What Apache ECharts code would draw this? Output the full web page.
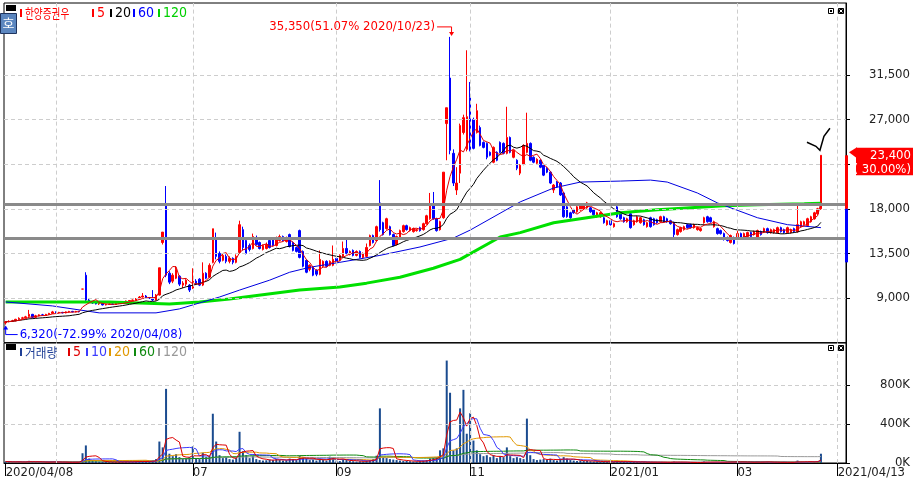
<!doctype html>
<html lang="ko">
<head>
<meta charset="UTF-8">
<title>한양증권우</title>
<script src="https://cdn.jsdelivr.net/npm/echarts@6.0.0/dist/echarts.min.js"></script>
<style>
    html, body { margin: 0; padding: 0; background: #fff; }
    #container { width: 913px; height: 482px; }
</style>
</head>
<body>
<div id="container"></div>
<script type="text/javascript">

    // 일봉 [시가, 종가, 저가, 고가]  2020/04/08 ~
    var kline = [
        [6500,6600,6320,6650],[6600,6650,6550,6750],[6650,6700,6600,6800],[6700,6850,6650,6900],[6850,6950,6800,7050],
        [6950,7000,6900,7100],[7000,7100,6950,7200],[7150,7350,7100,7800],[7350,7050,6950,7400],[7050,7200,7000,7300],
        [7200,7300,7150,7350],[7300,7250,7200,7400],[7250,7350,7200,7400],[7350,7450,7300,7500],[7450,7600,7400,7700],
        [7600,7500,7450,7650],[7500,7550,7450,7600],[7550,7500,7450,7600],[7500,7600,7450,7650],[7600,7650,7550,7700],
        [7650,7600,7550,7700],[7600,7650,7550,7700],[7650,7620,7550,7700],[9900,9900,9900,9900],[11300,8800,8700,11600],
        [8800,8600,8500,8900],[8600,8500,8400,8700],[8500,8400,8350,8600],[8400,8450,8300,8500],[8450,8300,8250,8500],
        [8300,8350,8250,8400],[8350,8400,8300,8450],[8400,8350,8300,8450],[8350,8450,8300,8500],[8450,8500,8400,8550],
        [8500,8550,8450,8600],[8550,8700,8500,8750],[8700,8750,8650,8800],[8750,8800,8700,8850],[8800,8900,8750,9000],
        [8900,9100,8850,9200],[9100,9200,9050,9500],[9200,9050,9000,9300],[9050,9000,8900,9100],[9000,8800,8700,9800],
        [8800,9300,8750,9400],[9300,12050,9250,12050],[14600,15650,14400,15650],[18400,11300,11100,20300],[11500,10600,10400,11700],
        [10700,11300,10500,11500],[11000,11900,10900,12200],[11200,10400,10200,11300],[10300,10500,10000,10700],[10400,10800,10200,10900],
        [10300,9800,9600,10400],[10000,10700,9900,12000],[10700,10400,10300,10900],[10900,10300,10200,11000],[10300,11500,10200,12600],
        [11500,11000,10900,11600],[11100,12300,11000,12500],[12600,15990,12500,15990],[15000,13200,12900,15600],[13500,12700,12500,13700],
        [12800,13300,12700,13500],[13200,12700,12500,13400],[12700,13000,12500,13200],[13000,12600,12400,13100],[12600,13200,12500,13400],
        [13600,16400,13500,16800],[15900,14100,13800,16200],[14800,13500,13400,14900],[14300,13900,13700,14500],[14000,15200,13900,15500],
        [15100,14400,14300,15300],[14600,14000,13900,14700],[13900,14300,13800,14400],[14000,14400,13900,14600],[14800,14100,14000,14900],
        [15000,14300,14200,15100],[14300,15100,14200,15200],[14800,15200,14700,15400],[15200,14800,14700,15300],[14700,15100,14600,15200],
        [15400,14200,14100,15500],[14600,13800,13700,14700],[14100,13700,13600,14200],[15800,13100,13000,15900],[13700,12200,12100,13800],
        [12800,11600,11500,12900],[11900,12300,11700,12400],[12100,11300,11200,12200],[11800,11400,11200,11900],[11400,12900,11300,13800],
        [12200,12700,12100,12800],[12700,12200,12100,12800],[12300,12700,12200,12800],[12300,12900,12200,14300],[13000,12700,12600,13100],
        [12800,13300,12700,13400],[13200,14000,13100,14700],[14000,13500,13400,15000],[13400,13700,13300,13800],[13800,13300,13200,13900],
        [13300,13700,13200,13800],[13700,13100,13000,13800],[13100,13500,13000,13600],[13200,14100,13100,14500],[14300,15300,14200,15400],
        [15300,14600,14500,15400],[14800,16200,14700,16300],[18600,15900,15700,20900],[16600,15400,15300,16700],[16000,17000,15900,17100],
        [16200,15400,15300,16300],[15400,14300,14200,15500],[14400,15200,14300,15300],[15100,15800,15000,15900],[15700,16300,15600,16400],
        [16300,15900,15800,16400],[15800,16100,15700,16200],[15700,16000,15600,16100],[15800,15900,15700,16000],[16100,15800,15700,16200],
        [15900,16500,15800,16600],[16500,17300,16400,17400],[17000,18400,16900,19600],[18500,17000,16900,19700],[17000,15800,15700,17100],
        [15900,16700,15800,16800],[17100,21700,17000,21700],[26600,28200,22900,28200],[31200,23900,23500,35350],[23600,20600,20300,24000],
        [19900,20600,19400,22200],[21600,26400,20600,26600],[25700,27200,25500,27500],[24000,27300,23800,34000],[29200,23900,23800,30800],
        [27000,24100,24000,27200],[25700,27900,25600,28600],[26200,24400,24300,26400],[24700,24200,24100,24800],[24600,23200,23000,24700],
        [23700,23400,23300,23800],[22700,24200,22600,24300],[23700,22900,22800,23800],[24700,23700,23600,24800],[24600,23600,23500,24700],
        [23600,25200,23500,28300],[25200,23700,23600,25300],[23200,23900,23100,24000],[22900,22100,21900,23000],[21600,22400,21400,22500],
        [22500,24400,22400,24500],[23700,24600,23600,27700],[24600,22900,22800,24700],[23200,22700,22600,23300],[22600,23000,22500,23100],
        [22900,22200,22100,23000],[22400,21400,21300,22500],[22100,21700,21600,22200],[21700,20600,20500,21800],[19900,20400,19600,20500],
        [20700,20200,20100,20800],[20600,19400,19300,20700],[19600,17200,17100,19700],[18200,17200,17100,18300],[17600,17100,17000,17700],
        [17900,17600,17500,18000],[17700,18200,17600,18300],[17900,18400,17800,18500],[18000,18400,17900,18500],[18100,18600,18000,18700],
        [18100,17700,17600,18200],[17900,17400,17300,18000],[17200,17600,17100,17700],[17200,17600,17100,17700],[17100,16600,16500,17200],
        [16400,16800,16300,16900],[16800,16400,16300,16900],[16200,16500,16100,16600],[18200,17200,17100,18600],[17600,17000,16900,17700],
        [17100,16700,16600,17200],[16700,17000,16600,17100],[17500,16100,16000,17600],[16400,16800,16300,16900],[16700,17200,16600,17300],
        [16600,17100,16500,17200],[16900,16400,16300,17000],[16200,16600,16100,16700],[17100,16200,16100,17200],[17000,16400,16300,17100],
        [16900,16600,16500,17000],[16700,17200,16600,17300],[17200,16700,16600,17300],[17000,16700,16600,17100],[16800,16500,16400,16900],
        [16600,15400,15100,16700],[15400,15900,15300,16000],[15700,16100,15600,16200],[15900,16200,15800,16300],[16400,16100,16000,16500],
        [16400,16100,16000,16500],[16100,16400,16000,16500],[15900,16100,15800,16200],[15800,16000,15700,16100],[16600,17100,16500,17200],
        [17200,16700,16600,17300],[17100,16700,16600,17200],[16200,16700,16100,16800],[16000,15500,15400,16100],[15800,15500,15400,15900],
        [15500,14900,14800,15600],[15100,14800,14700,15200],[14600,15300,14500,15400],[15100,14500,14400,15200],[15100,15500,15000,15800],
        [15500,15100,15000,15600],[15100,15500,15000,15600],[15200,15600,15100,15700],[15600,15200,15100,15700],[15400,15700,15300,15800],
        [15100,15800,15000,15900],[15700,15400,15300,15800],[15700,16000,15600,16100],[16000,15600,15500,16100],[15600,15900,15500,16000],
        [15600,15900,15500,16000],[15600,16100,15500,16200],[16100,15700,15600,16200],[15900,15600,15500,16000],[15600,16100,15500,16200],
        [15600,15900,15500,16000],[16000,15700,15600,16100],[15700,16400,15600,18400],[16200,16700,16100,16800],[16400,16700,16300,16800],
        [16300,17000,16200,17100],[16700,17200,16600,17300],[17000,17600,16900,17700],[17500,18000,17400,18100],[18000,23400,17900,23400]
    ];

    // 거래량
    var volume = [
        15000,12000,9000,10000,14000,8000,9000,22000,14000,10000,
        8000,7000,9000,10000,16000,9000,7000,6000,8000,7000,
        9000,8000,7000,100000,180000,45000,25000,18000,14000,12000,
        10000,9000,11000,9000,10000,12000,14000,12000,11000,15000,
        22000,18000,12000,15000,25000,40000,220000,160000,760000,95000,
        70000,90000,60000,40000,45000,60000,170000,50000,40000,105000,
        60000,70000,505000,220000,80000,50000,60000,40000,35000,50000,
        320000,120000,80000,50000,70000,40000,30000,25000,28000,35000,
        30000,40000,30000,25000,28000,45000,40000,30000,75000,60000,
        50000,30000,35000,25000,45000,30000,25000,65000,60000,25000,
        20000,35000,30000,20000,18000,15000,18000,15000,25000,30000,
        40000,75000,560000,60000,50000,40000,35000,30000,25000,20000,
        22000,18000,15000,15000,18000,25000,30000,45000,50000,60000,
        130000,150000,1050000,720000,130000,150000,560000,750000,300000,510000,
        230000,130000,90000,70000,80000,60000,80000,50000,70000,60000,
        160000,70000,50000,60000,50000,40000,455000,80000,40000,30000,
        35000,40000,35000,45000,30000,25000,40000,60000,45000,30000,
        25000,20000,25000,20000,22000,18000,15000,14000,12000,15000,
        12000,10000,9000,25000,15000,10000,9000,18000,10000,9000,
        8000,8000,7000,9000,8000,7000,8000,7000,6000,7000,
        15000,9000,7000,6000,6000,5000,5000,6000,5000,15000,
        10000,8000,7000,9000,8000,10000,9000,12000,10000,15000,
        9000,7000,8000,7000,6000,15000,6000,12000,14000,6000,
        5000,6000,5000,12000,5000,5000,7000,25000,12000,9000,
        10000,12000,15000,20000,95000
    ];

    // 60일, 120일 이평 (그림에서 읽은 꺾임점: [일자순번, 값])
    var ma60Pts = [[0,8600],[14,8200],[28,7500],[45,7500],[52,7900],[58,8500],[64,9100],[70,9800],[79,10800],
        [85,11600],[91,12100],[100,12600],[112,13300],[124,14150],[134,15050],[139,15850],[154,18700],[164,20100],
        [172,20700],[184,20800],[193,20900],[198,20700],[207,19600],[213,18600],[225,17100],[234,16400],[244,16100]];
    var ma120Pts = [[0,8600],[31,8600],[49,8400],[58,8600],[67,8900],[88,9800],[100,10100],[108,10500],[118,11100],
        [128,12000],[136,12900],[148,15150],[154,15600],[164,16600],[174,17100],[184,17600],[195,17900],[205,18100],
        [215,18300],[225,18400],[239,18500],[244,18550]];

    var priceTicks = [9000, 13500, 18000, 22500, 27000, 31500];
    var volTicks = [0, 400000, 800000];
    var guideLines = [18450, 15050];
    var dayRange = [12600, 18000, 23400];   // 하한가, 기준가, 상한가
    var holidays = ['2020-04-15','2020-04-30','2020-05-01','2020-05-05','2020-08-17','2020-09-30','2020-10-01',
        '2020-10-02','2020-10-09','2020-12-25','2020-12-31','2021-01-01','2021-02-11','2021-02-12','2021-03-01'];

    var NARROW = "'Liberation Sans Narrow','Arial Narrow','DejaVu Sans Condensed',sans-serif";
    var KR = "'Noto Sans CJK KR','Noto Sans CJK SC',sans-serif";

    function getTradeDays() {
        var out = [];
        var d = Date.UTC(2020, 3, 8), end = Date.UTC(2021, 3, 13);
        for (; d <= end; d += 86400000) {
            var dt = new Date(d);
            var s = dt.toISOString().slice(0, 10);
            if (dt.getUTCDay() === 0 || dt.getUTCDay() === 6) continue;
            if (holidays.indexOf(s) >= 0) continue;
            out.push(s.replace(/-/g, '/'));
        }
        return out;
    }

    function movingAvg(arr, n) {
        return arr.map(function (v, i) {
            var s = 0, c = 0;
            for (var k = Math.max(0, i - n + 1); k <= i; k++) { s += arr[k]; c++; }
            return Math.round(s / c);
        });
    }

    function fmt(v) { return Number(v).toLocaleString('en-US'); }

    var tradeDays = getTradeDays();
    var cats = tradeDays.concat(['', ' ']);
    var lastIdx = tradeDays.length - 1;

    var gridIdx = [], labelIdx = [0];
    for (var i = 1; i < tradeDays.length; i++) {
        var m = +tradeDays[i].slice(5, 7), pm = +tradeDays[i - 1].slice(5, 7);
        if (m !== pm && m % 2 === 1) {
            gridIdx.push(i);
            if (i > 30) labelIdx.push(i);
        }
    }
    gridIdx.push(lastIdx);
    labelIdx.push(lastIdx);

    var closes = kline.map(function (r) { return r[1]; });
    var ma5 = movingAvg(closes, 5), ma20 = movingAvg(closes, 20);
    var vma5 = movingAvg(volume, 5), vma10 = movingAvg(volume, 10), vma20 = movingAvg(volume, 20),
        vma60 = movingAvg(volume, 60), vma120 = movingAvg(volume, 120);

    var dash = {type: [4, 3], color: '#cdcdcd', width: 1};
    var vLines = gridIdx.map(function (i) { return {xAxis: cats[i]}; });

    function lineSeries(name, data, color, width, x, y, z) {
        return {name: name, type: 'line', xAxisIndex: x, yAxisIndex: y, data: data, symbol: 'none',
            silent: true, z: z || 3, lineStyle: {color: color, width: width}};
    }

    var dom = document.getElementById('container');
    var myChart = echarts.init(dom);

    var option = {
        animation: false,
        backgroundColor: '#ffffff',
        grid: [
            {left: 4, right: 65, top: 3, height: 339.6, show: true, borderColor: '#000', borderWidth: 1},
            {left: 4, right: 65, top: 343, height: 120, show: true, borderColor: '#000', borderWidth: 1}
        ],
        xAxis: [
            {type: 'category', gridIndex: 0, data: cats, boundaryGap: true,
                axisLine: {show: false}, axisTick: {show: false}, axisLabel: {show: false}, splitLine: {show: false}},
            {type: 'category', gridIndex: 1, data: cats, boundaryGap: true,
                axisLine: {show: true, lineStyle: {color: '#000'}},
                axisTick: {show: true, alignWithLabel: true, length: 13, lineStyle: {color: '#000'},
                    interval: function (i) { return labelIdx.indexOf(i) >= 0; }},
                axisLabel: {
                    interval: function (i) { return labelIdx.indexOf(i) >= 0; },
                    formatter: function (v, i) {
                        if (i === 0 || i === lastIdx) return v;
                        if (v.slice(5, 7) === '01') return v.slice(0, 7);
                        return v.slice(5, 7);
                    },
                    align: 'left', margin: 3, fontFamily: NARROW, fontSize: 13, color: '#222'
                },
                splitLine: {show: false}}
        ],
        yAxis: [
            {type: 'value', gridIndex: 0, position: 'right', min: 4500, max: 38770, interval: 4500,
                axisLine: {show: true, lineStyle: {color: '#000'}},
                axisTick: {show: true, length: 4, customValues: priceTicks, lineStyle: {color: '#000'}},
                axisLabel: {customValues: priceTicks, align: 'right', margin: 64, fontFamily: NARROW, fontSize: 13, color: '#222',
                    formatter: function (v) { return priceTicks.indexOf(v) >= 0 ? fmt(v) : ''; }},
                splitLine: {show: false}},
            {type: 'value', gridIndex: 1, position: 'right', min: 0, max: 1230000, interval: 400000,
                axisLine: {show: true, lineStyle: {color: '#000'}},
                axisTick: {show: true, length: 4, customValues: volTicks, lineStyle: {color: '#000'}},
                axisLabel: {customValues: volTicks, align: 'right', margin: 64, fontFamily: NARROW, fontSize: 13, color: '#222',
                    formatter: function (v) { return volTicks.indexOf(v) >= 0 ? (v / 1000) + 'K' : ''; }},
                splitLine: {show: false}}
        ],
        series: [
            {name: 'grid0', type: 'line', xAxisIndex: 0, yAxisIndex: 0, data: closes, symbol: 'none', silent: true, z: 1,
                lineStyle: {opacity: 0},
                markLine: {silent: true, symbol: 'none', label: {show: false}, lineStyle: dash,
                    data: priceTicks.map(function (v) { return {yAxis: v}; }).concat(vLines)}},
            {name: '한양증권우', type: 'candlestick', xAxisIndex: 0, yAxisIndex: 0, data: kline, barWidth: 2, z: 2,
                itemStyle: {color: '#ff0000', color0: '#0000ff', borderColor: '#ff0000', borderColor0: '#0000ff', borderWidth: 1}},
            lineSeries('120', ma120Pts, '#00e000', 3, 0, 0),
            lineSeries('60', ma60Pts, '#0000e0', 1, 0, 0),
            lineSeries('20', ma20, '#000000', 1, 0, 0),
            lineSeries('5', ma5, '#e00000', 1, 0, 0),
            {name: 'guide', type: 'line', xAxisIndex: 0, yAxisIndex: 0, data: closes, symbol: 'none', silent: true, z: 6,
                lineStyle: {opacity: 0},
                markLine: {silent: true, symbol: 'none', label: {show: false},
                    lineStyle: {color: '#8a8a8a', width: 3, type: 'solid'},
                    data: guideLines.map(function (v) { return {yAxis: v}; })}},

            {name: 'grid1', type: 'line', xAxisIndex: 1, yAxisIndex: 1, data: volume, symbol: 'none', silent: true, z: 1,
                lineStyle: {opacity: 0},
                markLine: {silent: true, symbol: 'none', label: {show: false}, lineStyle: dash,
                    data: [{yAxis: 400000}, {yAxis: 800000}].concat(vLines)}},
            {name: '거래량', type: 'bar', xAxisIndex: 1, yAxisIndex: 1, data: volume, barWidth: 2, silent: true, z: 2,
                itemStyle: {color: '#1a4b8f'}},
            lineSeries('v120', vma120, '#999999', 1, 1, 1),
            lineSeries('v60', vma60, '#108a10', 1, 1, 1),
            lineSeries('v20', vma20, '#e09800', 1, 1, 1),
            lineSeries('v10', vma10, '#3a3aff', 1, 1, 1),
            lineSeries('v5', vma5, '#dd0000', 1, 1, 1)
        ]
    };

    myChart.setOption(option, true);

    // ---- 주석, 범례 (축 좌표로 변환해서 배치) ----
    function px(i, v) { return myChart.convertToPixel({gridIndex: 0}, [i, v]); }

    var hiIdx = 0, loIdx = 0;
    kline.forEach(function (r, i) {
        if (r[3] > kline[hiIdx][3]) hiIdx = i;
        if (r[2] < kline[loIdx][2]) loIdx = i;
    });
    var lastK = kline.length - 1;
    var lastClose = kline[lastK][1], prevClose = kline[lastK - 1][1];
    var hi = kline[hiIdx][3], lo = kline[loIdx][2];
    var hiText = fmt(hi) + '(' + ((hi / lastClose - 1) * 100).toFixed(2) + '% ' + cats[hiIdx] + ')';
    var loText = fmt(lo) + '(' + ((lo / lastClose - 1) * 100).toFixed(2) + '% ' + cats[loIdx] + ')';
    var chgText = '( ' + ((lastClose / prevClose - 1) * 100).toFixed(2) + '%)';

    var ph = px(hiIdx, hi), pl = px(loIdx, lo), pc = px(lastK, lastClose);
    var yUp = px(lastK, dayRange[2])[1], yBase = px(lastK, dayRange[1])[1], yDn = px(lastK, dayRange[0])[1];
    var axisX = 848;

    function txt(x, y, s, color, size, family, align, sx) {
        return {type: 'text', x: x, y: y, scaleX: sx || 1, scaleY: 1, z: 100, silent: true,
            style: {text: s, fill: color, fontSize: size, fontFamily: family, align: align || 'left', verticalAlign: 'middle'}};
    }
    function box(x, y, w, h, fill, stroke) {
        return {type: 'rect', z: 100, silent: true, shape: {x: x, y: y, width: w, height: h},
            style: {fill: fill, stroke: stroke || null, lineWidth: 1}};
    }
    function legendItem(x, y, label, color, family, sx, size) {
        return [box(x, y - 4, 2, 8, color), txt(x + 5, y, label, color, size || 14, family, 'left', sx)];
    }
    function panelIcons(y) {
        return [
            box(828.5, y, 5, 5, '#fff', '#000'), box(830, y + 1.5, 2, 2, '#000'),
            box(838.5, y, 5, 5, '#000', '#000'),
            {type: 'polyline', z: 101, silent: true, shape: {points: [[839.5, y + 1], [842.5, y + 4]]}, style: {stroke: '#fff', lineWidth: 1}},
            {type: 'polyline', z: 101, silent: true, shape: {points: [[842.5, y + 1], [839.5, y + 4]]}, style: {stroke: '#fff', lineWidth: 1}}
        ];
    }

    var g = [];
    // 가격 범례
    g.push(box(6, 5, 10, 6, '#000'));
    g.push(box(0.5, 13.5, 16, 20, '#5b86bf', '#1f3560'));
    g.push(txt(8.5, 23.5, '호', '#fff', 13, KR, 'center'));
    g = g.concat(legendItem(20, 13, '한양증권우', '#ff0000', KR, 0.74, 13));
    g = g.concat(legendItem(92, 13, '5', '#ff0000', NARROW));
    g = g.concat(legendItem(110, 13, '20', '#000000', NARROW));
    g = g.concat(legendItem(133, 13, '60', '#0000ff', NARROW));
    g = g.concat(legendItem(158, 13, '120', '#00d000', NARROW));
    // 거래량 범례
    g.push(box(6, 344, 10, 6, '#000'));
    g = g.concat(legendItem(20, 352, '거래량', '#1f3f96', KR, 0.9, 13));
    g = g.concat(legendItem(68, 352, '5', '#e00000', NARROW));
    g = g.concat(legendItem(86, 352, '10', '#3a3aff', NARROW));
    g = g.concat(legendItem(109, 352, '20', '#e09800', NARROW));
    g = g.concat(legendItem(134, 352, '60', '#108a10', NARROW));
    g = g.concat(legendItem(158, 352, '120', '#999999', NARROW));
    g = g.concat(panelIcons(8.5), panelIcons(345.5));

    // 최고가 표시
    g.push(txt(ph[0] - 15, ph[1] - 10, hiText, '#ff0000', 13, NARROW, 'right'));
    g.push({type: 'polyline', z: 100, silent: true,
        shape: {points: [[ph[0] - 13, ph[1] - 10], [ph[0] + 1.5, ph[1] - 10], [ph[0] + 1.5, ph[1] - 3]]},
        style: {stroke: '#ff0000', lineWidth: 1}});
    g.push({type: 'polygon', z: 100, silent: true,
        shape: {points: [[ph[0] - 1, ph[1] - 5], [ph[0] + 4, ph[1] - 5], [ph[0] + 1.5, ph[1] - 1]]}, style: {fill: '#ff0000'}});
    // 최저가 표시
    g.push(txt(pl[0] + 14, pl[1] + 10, loText, '#0000ff', 13, NARROW, 'left'));
    g.push({type: 'polyline', z: 100, silent: true,
        shape: {points: [[pl[0], pl[1] + 3], [pl[0], pl[1] + 10], [pl[0] + 12, pl[1] + 10]]},
        style: {stroke: '#0000ff', lineWidth: 1}});
    g.push({type: 'polygon', z: 100, silent: true,
        shape: {points: [[pl[0] - 2.5, pl[1] + 5], [pl[0] + 2.5, pl[1] + 5], [pl[0], pl[1] + 1]]}, style: {fill: '#0000ff'}});

    // 상/하한 범위 막대, 현재가 박스
    g.push(box(axisX - 3, yUp, 3, yBase - yUp, '#ff0000'));
    g.push(box(axisX - 3, yBase, 3, yDn - yBase, '#0000ff'));
    g.push({type: 'polygon', z: 100, silent: true,
        shape: {points: [[axisX + 1, pc[1] - 3], [axisX + 9, pc[1] - 8], [axisX + 9, pc[1] + 3]]}, style: {fill: '#ff0000'}});
    g.push(box(axisX + 8, pc[1] - 7.5, 57, 27.5, '#ff0000'));
    g.push(txt(911, pc[1], fmt(lastClose), '#fff', 13, NARROW, 'right'));
    g.push(txt(911, pc[1] + 14, chgText, '#fff', 13, NARROW, 'right'));

    // 손으로 그린 체크 표시
    g.push({type: 'polyline', z: 100, silent: true,
        shape: {points: [[pc[0] - 14, pc[1] - 13], [pc[0] - 5, pc[1] - 9], [pc[0] - 1, pc[1] - 5],
            [pc[0] + 3, pc[1] - 19], [pc[0] + 9, pc[1] - 27]]},
        style: {stroke: '#000', lineWidth: 1.5, fill: null}});

    myChart.setOption({graphic: g});

</script>
</body>
</html>
